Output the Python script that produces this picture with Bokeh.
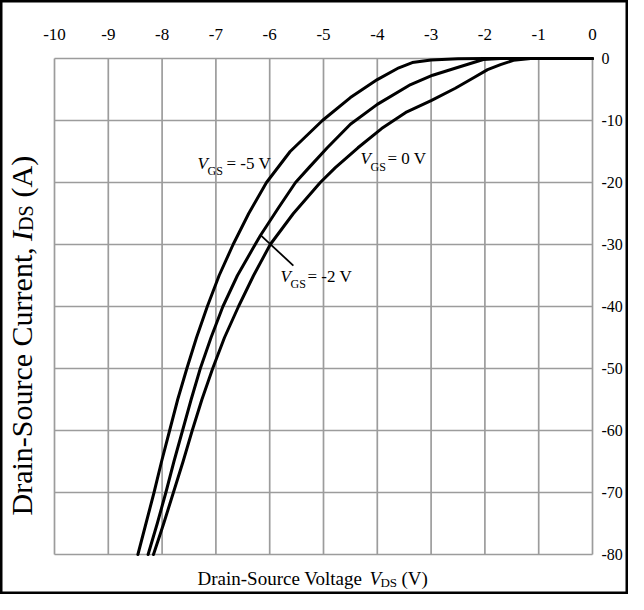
import math
from bokeh.plotting import figure
from bokeh.models import Label, Range1d
from bokeh.core.properties import value
from bokeh.embed import file_html
from bokeh.resources import INLINE

# ---- data ----
x_ticks = [-10, -9, -8, -7, -6, -5, -4, -3, -2, -1, 0]
y_ticks = [0, -10, -20, -30, -40, -50, -60, -70, -80]
x_tick_labels = [str(t) for t in x_ticks]
y_tick_labels = [str(t) for t in y_ticks]

# V_GS = -5 V
vds_m5 = [-8.45, -8.30, -8.15, -8.01, -7.86, -7.71, -7.54, -7.36, -7.16, -6.94, -6.68, -6.39, -6.06, -5.62,
          -5.02, -4.50, -4.00, -3.60, -3.35, -3.00, -2.50, -2.00, 0.0]
ids_m5 = [-80.0, -75.0, -70.0, -65.0, -60.0, -55.0, -50.0, -45.0, -40.0, -35.0, -30.0, -25.0, -20.0, -15.0,
          -10.0, -6.3, -3.4, -1.5, -0.65, -0.25, -0.05, 0.0, 0.0]

# V_GS = -2 V
vds_m2 = [-8.26, -8.09, -7.93, -7.78, -7.62, -7.46, -7.29, -7.09, -6.87, -6.60, -6.27, -6.17, -5.83, -5.52,
          -5.27, -4.93, -4.50, -4.00, -3.38, -2.97, -2.51, -2.03, -1.71, 0.0]
ids_m2 = [-80.0, -75.0, -70.0, -65.0, -60.0, -55.0, -50.0, -45.0, -40.0, -35.0, -30.0, -28.5, -24.0, -20.0,
          -17.6, -14.4, -10.6, -7.4, -4.2, -2.7, -1.45, -0.16, 0.0, 0.0]

# V_GS = 0 V
vds_0 = [-8.16, -7.97, -7.79, -7.61, -7.44, -7.26, -7.06, -6.84, -6.58, -6.30, -5.99, -5.56, -5.06, -4.78,
         -4.36, -3.92, -3.45, -3.00, -2.55, -2.21, -1.95, -1.71, -1.47, -1.15, 0.0]
ids_0 = [-80.0, -75.0, -70.0, -65.0, -60.0, -55.0, -50.0, -45.0, -40.0, -35.0, -30.0, -25.0, -20.0, -17.6,
         -14.4, -11.3, -8.6, -6.8, -4.8, -3.1, -1.8, -1.0, -0.3, 0.0, 0.0]

# leader line for the V_GS = -2 V label
leader_vds = [-6.17, -5.56]
leader_ids = [-28.5, -33.4]

FONT = "Liberation Serif"
GRID = "#9c9c9c"

# layout (pixels)
W, H = 628, 594
ML, MR, MT, MB = 54, 36, 58, 40
ppv = (W - ML - MR) / (max(x_ticks) - min(x_ticks))   # px per volt
ppa = (H - MT - MB) / (max(y_ticks) - min(y_ticks))   # px per amp

x0, x1 = min(x_ticks), max(x_ticks)
y0, y1 = min(y_ticks), max(y_ticks)

p = figure(width=W, height=H,
           x_range=Range1d(x0 - ML / ppv, x1 + MR / ppv),
           y_range=Range1d(y0 - MB / ppa, y1 + MT / ppa),
           x_axis_type=None, y_axis_type=None,
           output_backend="svg", toolbar_location=None,
           min_border=0)
p.outline_line_color = "black"
p.outline_line_width = 4
p.background_fill_color = "white"
p.border_fill_color = "white"

# grid
p.segment(x0=x_ticks, y0=[y0] * len(x_ticks), x1=x_ticks, y1=[y1] * len(x_ticks),
          line_color=GRID, line_width=1.7)
p.segment(x0=[x0] * len(y_ticks), y0=y_ticks, x1=[x1] * len(y_ticks), y1=y_ticks,
          line_color=GRID, line_width=1.7)

# tick labels
p.text(x=x_ticks, y=[y1] * len(x_ticks), text=x_tick_labels, y_offset=-24,
       text_align="center", text_baseline="middle", text_color="black",
       text_font=value(FONT), text_font_size=value("17px"))
p.text(x=[x1] * len(y_ticks), y=y_ticks, text=y_tick_labels, x_offset=9,
       text_align="left", text_baseline="middle", text_color="black",
       text_font=value(FONT), text_font_size=value("16px"))

# curves
for xs, ys in ((vds_m5, ids_m5), (vds_m2, ids_m2), (vds_0, ids_0)):
    p.line(xs, ys, line_color="black", line_width=3, line_join="round", line_cap="round")

p.line(leader_vds, leader_ids, line_color="black", line_width=1.8)


def lab(x, y, text, size, style="normal", angle=0.0):
    p.add_layout(Label(x=x, y=y, text=text, text_font=FONT, text_font_size=size,
                       text_font_style=style, text_color="black", angle=angle,
                       text_align="left", text_baseline="middle"))


# curve annotations (text centres)
lab(-7.342, -16.94, "V", "17px", "italic")
lab(-7.156, -18.20, "GS", "12px")
lab(-6.803, -16.94, "= -5 V", "17px")

lab(-4.312, -16.13, "V", "17px", "italic")
lab(-4.126, -17.42, "GS", "12px")
lab(-3.810, -16.13, "= 0 V", "17px")

lab(-5.799, -35.16, "V", "17px", "italic")
lab(-5.613, -36.45, "GS", "12px")
lab(-5.297, -35.16, "= -2 V", "17px")

# bottom title
lab(-7.342, -83.87, "Drain-Source Voltage", "19px")
lab(-4.145, -83.87, "V", "19px", "italic")
lab(-3.941, -84.52, "DS", "13px")
lab(-3.550, -83.87, "(V)", "19px")

# left title (rotated)
R = math.pi / 2
lab(-10.613, -73.71, "Drain-Source Current,", "30px", angle=R)
lab(-10.613, -29.44, "I", "30px", "italic", angle=R)
lab(-10.539, -27.82, "DS", "20px", angle=R)
lab(-10.613, -22.42, "(A)", "30px", angle=R)

open("out.html", "w").write(file_html(p, INLINE))
